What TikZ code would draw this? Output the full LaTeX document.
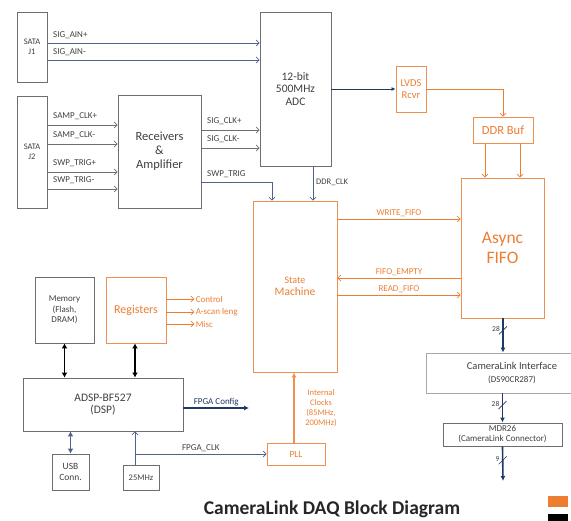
\documentclass[tikz,border=0pt]{standalone}
\usepackage{fontspec}
\setmainfont{Carlito}
\usetikzlibrary{arrows.meta}
\definecolor{orng}{RGB}{237,125,49}
\definecolor{wireblue}{RGB}{79,98,140}
\definecolor{busblue}{RGB}{31,56,100}
\definecolor{boxgray}{RGB}{110,110,110}
\definecolor{txtgray}{RGB}{64,64,64}

\begin{document}
\begin{tikzpicture}[
  x=1pt, y=-1pt,
  font=\fontsize{11.5}{12.5}\selectfont,
  gbox/.style={draw=boxgray, line width=0.9pt, fill=white, align=center, inner sep=1pt, text=txtgray},
  obox/.style={gbox, draw=orng!85, text=orng},
  lbl/.style={font=\fontsize{9}{10}\selectfont, text=txtgray, inner sep=1pt},
  olbl/.style={lbl, text=orng},
  wire/.style={-{Straight Barb[length=3pt,width=6pt]}, boxgray, line width=0.7pt},
  bwire/.style={wire, wireblue},
  owire/.style={wire, orng},
  bus/.style={-{Latex[length=5pt,width=5pt]}, busblue, line width=1.6pt},
  dbl/.style={{Latex[length=5pt,width=6pt]}-{Latex[length=5pt,width=6pt]}, black, line width=1.6pt},
  slash/.style={busblue, line width=0.6pt}
]
\useasboundingbox (0,0) rectangle (571,521);
% ---------- front end ----------
\node[gbox, minimum width=30, minimum height=70, font=\fontsize{8.5}{9.5}\selectfont] (sataA) at (32,47) {SATA\\J1};
\node[gbox, minimum width=30, minimum height=112, font=\fontsize{8.5}{9.5}\selectfont] (sataB) at (32,152) {SATA\\J2};
\node[gbox, minimum width=83, minimum height=113, font=\fontsize{12.5}{14}\selectfont] (recv) at (159.5,151.5) {Receivers\\\&\\Amplifier};
\node[gbox, minimum width=71, minimum height=154] (adc) at (295.5,89) {12-bit\\500MHz\\ADC};
\draw[bwire] (sataA.east |- 0,43) -- (adc.west |- 0,43);
\node[lbl, anchor=west] at (52,35) {SIG\_AIN+};
\draw[bwire] (sataA.east |- 0,60) -- (adc.west |- 0,60);
\node[lbl, anchor=west] at (52,52) {SIG\_AIN-};
\draw[wire] (sataB.east |- 0,125) -- (recv.west |- 0,125);
\node[lbl, anchor=west] at (52,116) {SAMP\_CLK+};
\draw[wire] (sataB.east |- 0,144) -- (recv.west |- 0,144);
\node[lbl, anchor=west] at (52,135) {SAMP\_CLK-};
\draw[wire] (sataB.east |- 0,172) -- (recv.west |- 0,172);
\node[lbl, anchor=west] at (52,163) {SWP\_TRIG+};
\draw[wire] (sataB.east |- 0,189) -- (recv.west |- 0,189);
\node[lbl, anchor=west] at (52,180) {SWP\_TRIG-};
\draw[wire] (recv.east |- 0,130) -- (adc.west |- 0,130);
\node[lbl, anchor=west] at (206,121) {SIG\_CLK+};
\draw[wire] (recv.east |- 0,148) -- (adc.west |- 0,148);
\node[lbl, anchor=west] at (206,139) {SIG\_CLK-};
% ---------- FPGA side ----------
\node[obox, minimum width=84, minimum height=171] (sm) at (295,286.5) {{\fontsize{10}{11}\selectfont State}\\Machine};
\node[obox, minimum width=30, minimum height=46, font=\fontsize{10.5}{12}\selectfont, inner sep=0pt] (lvds) at (411,89) {LVDS\\Rcvr};
\node[obox, minimum width=60, minimum height=26, font=\fontsize{12.5}{14}\selectfont] (ddrbuf) at (503,130) {DDR Buf};
\node[obox, minimum width=83, minimum height=140, font=\fontsize{17.5}{20}\selectfont] (fifo) at (502.5,248) {Async\\FIFO};
\draw[bwire] (recv.east |- 0,182) -| (272,0 |- sm.north);
\node[lbl, anchor=west] at (206,174) {SWP\_TRIG};
\draw[bwire] (adc.south -| 313,0) -- (313,0 |- sm.north);
\node[lbl, anchor=west, font=\fontsize{8.5}{9}\selectfont] at (315,182) {DDR\_CLK};
\draw[busblue, line width=0.8pt, -{Latex[length=4pt,width=4pt]}] (adc.east) -- (lvds.west);
\draw[owire] (lvds.east) -| (ddrbuf.north);
\draw[owire] (ddrbuf.south -| 485,0) -- (485,0 |- fifo.north);
\draw[owire] (ddrbuf.south -| 520,0) -- (520,0 |- fifo.north);
\draw[owire] (sm.east |- 0,219) -- node[olbl, above=1pt] {WRITE\_FIFO} (fifo.west |- 0,219);
\draw[owire] (fifo.west |- 0,278) -- node[olbl, above=1pt] {FIFO\_EMPTY} (sm.east |- 0,278);
\draw[owire] (sm.east |- 0,295) -- node[olbl, above=1pt] {READ\_FIFO} (fifo.west |- 0,295);
% ---------- DSP side ----------
\node[gbox, minimum width=59, minimum height=66, font=\fontsize{9}{10.5}\selectfont] (mem) at (64.5,310) {Memory\\(Flash,\\DRAM)};
\node[obox, minimum width=60, minimum height=66, font=\fontsize{12}{13}\selectfont] (regs) at (136,310) {Registers};
\node[gbox, minimum width=160, minimum height=53] (dsp) at (103,404.5) {ADSP-BF527\\(DSP)};
\node[gbox, minimum width=37, minimum height=36, font=\fontsize{9.5}{11}\selectfont] (usb) at (70.5,472) {USB\\Conn.};
\node[gbox, minimum width=36, minimum height=25, font=\fontsize{8.5}{9.5}\selectfont] (osc) at (141,477.5) {25MHz};
\node[obox, minimum width=58, minimum height=22, font=\fontsize{9.5}{10.5}\selectfont] (pll) at (296,454) {PLL};
\draw[owire] (regs.east |- 0,299) -- ++(28,0) node[olbl, right=0pt] {Control};
\draw[owire] (regs.east |- 0,312) -- ++(28,0) node[olbl, right=0pt] {A-scan leng};
\draw[owire] (regs.east |- 0,324) -- ++(28,0) node[olbl, right=0pt] {Misc};
\draw[dbl] (mem.south) -- (mem.south |- dsp.north);
\draw[dbl] (regs.south -| 135,0) -- (135,0 |- dsp.north);
\draw[dbl, wireblue, line width=1.2pt] (usb.north) -- (usb.north |- dsp.south);
\coordinate (cfgend) at (249,408);
\draw[bus] (dsp.east |- cfgend) -- node[lbl, above=0pt, text=busblue] {FPGA Config} (cfgend);
\coordinate (clkfork) at (135,454);
\draw[bwire] (osc.north -| clkfork) -- (clkfork |- dsp.south);
\draw[bwire] (clkfork) -- node[lbl, above=1pt] {FPGA\_CLK} (pll.west);
\draw[orng!85, line width=1.3pt, -{Latex[length=5pt,width=5pt]}] (pll.north -| 294,0) -- (294,0 |- sm.south);
\node[olbl, align=center, font=\fontsize{8.5}{10}\selectfont] (clklbl) at (321,408) {Internal\\Clocks\\(85MHz,\\200MHz)};
% ---------- CameraLink output ----------
\node[gbox, draw=boxgray!60, minimum width=172, minimum height=40, font=\fontsize{10.5}{12.5}\selectfont] (cli) at (512,373) {CameraLink Interface\\{\fontsize{9}{10}\selectfont(DS90CR287)}};
\node[gbox, minimum width=119, minimum height=23, font=\fontsize{9}{10}\selectfont] (mdr) at (502.5,434.5) {MDR26\\(CameraLink Connector)};
\coordinate (camout) at (503,481);
\draw[bus] (fifo.south -| 503,0) -- coordinate[pos=0.35] (s1) (503,0 |- cli.north);
\draw[slash] ([shift={(-4,4)}]s1) -- ([shift={(4,-4)}]s1);
\node[lbl, anchor=east, font=\fontsize{7.5}{8}\selectfont] at ([shift={(-2,-1)}]s1) {28};
\draw[bus] (cli.south -| mdr.north) -- coordinate[pos=0.4] (s2) (mdr.north);
\draw[slash] ([shift={(-4,4)}]s2) -- ([shift={(4,-4)}]s2);
\node[lbl, anchor=east, font=\fontsize{7.5}{8}\selectfont] at ([shift={(-2,-1)}]s2) {28};
\draw[bus] (mdr.south) -- coordinate[pos=0.4] (s3) (camout);
\draw[slash] ([shift={(-4,4)}]s3) -- ([shift={(4,-4)}]s3);
\node[lbl, anchor=east, font=\fontsize{7.5}{8}\selectfont] at ([shift={(-2,-1)}]s3) {9};
% ---------- title and legend ----------
\node[font=\fontsize{19.5}{22}\selectfont\bfseries, text=black!85] (title) at (332,509) {CameraLink DAQ Block Diagram};
\fill[orng] (548,496) rectangle (568,507);
\fill[black] (548,514) rectangle (568,521);
\end{tikzpicture}
\end{document}
